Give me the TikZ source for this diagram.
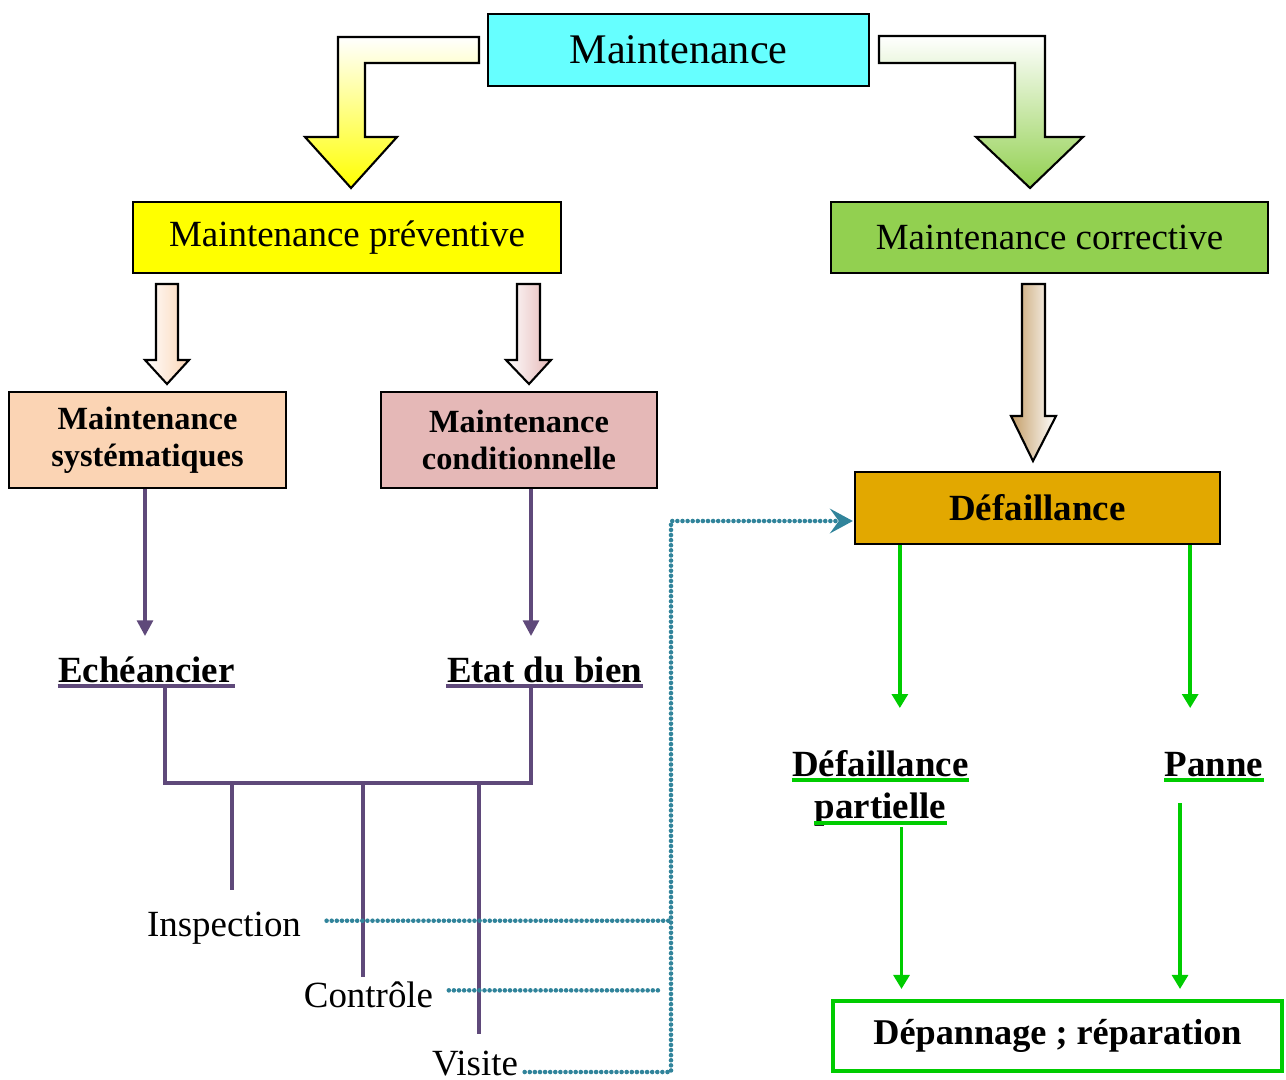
\documentclass[tikz,border=0pt]{standalone}
\usepackage{fontspec}
\setmainfont{Liberation Serif}
\usetikzlibrary{arrows.meta,calc}

\definecolor{titlecyan}{HTML}{66FFFF}
\definecolor{prevyellow}{HTML}{FFFF00}
\definecolor{corrgreen}{HTML}{92D050}
\definecolor{syspeach}{HTML}{FBD4B4}
\definecolor{condpink}{HTML}{E5B8B7}
\definecolor{defgold}{HTML}{E2A800}
\definecolor{arrowtan}{HTML}{C49E68}
\definecolor{violetline}{HTML}{5F497A}
\definecolor{dotblue}{HTML}{31849B}
\definecolor{vivgreen}{HTML}{00CC00}

\tikzset{
  box/.style={draw=black, line width=0.6pt, inner sep=0pt, align=center},
  fatarrow/.style={draw=black, line width=0.6pt},
  plink/.style={draw=violetline, line width=1pt},
  glink/.style={draw=vivgreen, line width=1.1pt},
  dotlink/.style={draw=dotblue, line width=1.3pt, line cap=round, dash pattern=on 0pt off 1.45pt},
  lab/.style={inner sep=0pt, font=\fontsize{10.5}{12}\selectfont\bfseries},
  plain/.style={inner sep=0pt, font=\fontsize{10.5}{12}\selectfont},
}

\begin{document}
\begin{tikzpicture}[x=0.01cm, y=-0.01cm]
  \path[use as bounding box] (0,0) rectangle (1286,1079);

  % boxes
  \node[box, fill=titlecyan, minimum width=3.81cm, minimum height=0.72cm,
        font=\fontsize{12}{14}\selectfont] (maint) at (678.5,50) {Maintenance};
  \node[box, fill=prevyellow, minimum width=4.28cm, minimum height=0.71cm,
        font=\fontsize{10.5}{12}\selectfont] (prev) at (347,237.5) {Maintenance préventive};
  \node[box, fill=corrgreen, minimum width=4.37cm, minimum height=0.71cm,
        font=\fontsize{10.5}{12}\selectfont] (corr) at (1049.5,237.5) {Maintenance corrective};
  \node[box, fill=syspeach, minimum width=2.77cm, minimum height=0.96cm,
        font=\fontsize{9.2}{10.5}\selectfont\bfseries] (sys) at (147.5,440) {Maintenance\\systématiques};
  \node[box, fill=condpink, minimum width=2.76cm, minimum height=0.96cm,
        font=\fontsize{9.2}{10.5}\selectfont\bfseries] (cond) at (519,440) {Maintenance\\conditionnelle};
  \node[box, fill=defgold, minimum width=3.65cm, minimum height=0.72cm,
        font=\fontsize{10.5}{12}\selectfont\bfseries] (def) at (1037.5,508) {Défaillance};
  \node[box, draw=vivgreen, line width=1.2pt, fill=white, minimum width=4.49cm, minimum height=0.70cm,
        font=\fontsize{10.3}{12}\selectfont\bfseries] (dep) at (1057.5,1036) {Dépannage ; réparation};

  % big bent arrows
  \shadedraw[fatarrow, top color=white, bottom color=prevyellow]
    (479,37) -- (338,37) -- (338,137) -- (305,137) -- (351,188) -- (397,137)
    -- (365,137) -- (365,63) -- (479,63) -- cycle;
  \shadedraw[fatarrow, top color=white, bottom color=corrgreen]
    (879,36) -- (1045,36) -- (1045,137) -- (1083,137) -- (1030,188) -- (976,137)
    -- (1015,137) -- (1015,63) -- (879,63) -- cycle;

  % straight fat arrows
  \shadedraw[fatarrow, left color=white, right color=syspeach]
    (156,284) -- (178,284) -- (178,360) -- (189,360) -- (167,384) -- (145,360) -- (156,360) -- cycle;
  \shadedraw[fatarrow, left color=white, right color=condpink]
    (517,284) -- (540,284) -- (540,360) -- (551,360) -- (529,384) -- (506,360) -- (517,360) -- cycle;
  \shadedraw[fatarrow, left color=arrowtan, right color=white]
    (1022,284) -- (1045,284) -- (1045,416) -- (1056,416) -- (1033,461) -- (1011,416) -- (1022,416) -- cycle;

  % labels
  \node[lab, anchor=base] (ech) at (146.5,682) {Echéancier};
  \node[lab, anchor=base] (etat) at (544.5,682) {Etat du bien};
  \node[lab, anchor=base] (dpa) at (880.5,776) {Défaillance};
  \node[lab, anchor=base] (dpb) at (880.5,818) {partielle};
  \node[lab, anchor=base] (panne) at (1214,776) {Panne};
  \node[plain, anchor=base] (insp) at (224,936) {Inspection};
  \node[plain, anchor=base] (ctrl) at (368.5,1007) {Contrôle};
  \node[plain, anchor=base] (vis) at (475,1075) {Visite};

  % underlines
  \draw[plink] ($(ech.base west)+(0,4)$) -- ($(ech.base east)+(0,4)$);
  \draw[plink] ($(etat.base west)+(0,4)$) -- ($(etat.base east)+(0,4)$);
  \draw[glink] ($(dpa.base west)+(0,4)$) -- ($(dpa.base east)+(0,4)$);
  \draw[glink] ($(dpb.base west)+(0,5)$) -- ($(dpb.base east)+(0,5)$);
  \draw[glink] ($(panne.base west)+(0,4)$) -- ($(panne.base east)+(0,4)$);

  % purple tree
  \coordinate (j1) at (165,783);
  \coordinate (j2) at (531,783);
  \coordinate (legi) at (232,890);
  \coordinate (legc) at (363,977);
  \coordinate (legv) at (479,1034);
  \draw[plink, -{Triangle[width=4.5pt,length=4.5pt]}] ($(sys.south)+(-2.5,0)$) -- ++(0,147);
  \draw[plink, -{Triangle[width=4.5pt,length=4.5pt]}] ($(cond.south)+(12,0)$) -- ++(0,147);
  \draw[plink] ($(j1 |- ech.base)+(0,5)$) -- (j1) -- (j2) -- ($(j2 |- etat.base)+(0,5)$);
  \draw[plink] (legi |- j1) -- (legi);
  \draw[plink] (legc |- j1) -- (legc);
  \draw[plink] (legv |- j1) -- (legv);

  % dotted links
  \coordinate (bend) at (671,1072);
  \draw[dotlink] ($(insp.east)+(25,-7)$) -- ($(insp.east)+(370,-7)$);
  \draw[dotlink] ($(ctrl.east)+(15,-4)$) -- ($(ctrl.east)+(226,-4)$);
  \draw[dotlink, -{Stealth[length=6.5pt,width=7pt,inset=2.5pt]}]
    ($(vis.east |- bend)+(6,0)$) -- (bend) -- (bend |- 0,521) -- ($(def.west)+(-1,13)$);

  % green links
  \draw[glink, -{Triangle[width=4.5pt,length=4pt]}] ($(def.south west)+(46,0)$) -- ++(0,163);
  \draw[glink, -{Triangle[width=4.5pt,length=4pt]}] ($(def.south east)+(-31,0)$) -- ++(0,163);
  \draw[glink, -{Triangle[width=4.5pt,length=4pt]}] ($(dpb.base)+(21,9)$) -- ++(0,162);
  \draw[glink, -{Triangle[width=4.5pt,length=4pt]}] ($(panne.base)+(-34,27)$) -- ++(0,186);
\end{tikzpicture}
\end{document}
